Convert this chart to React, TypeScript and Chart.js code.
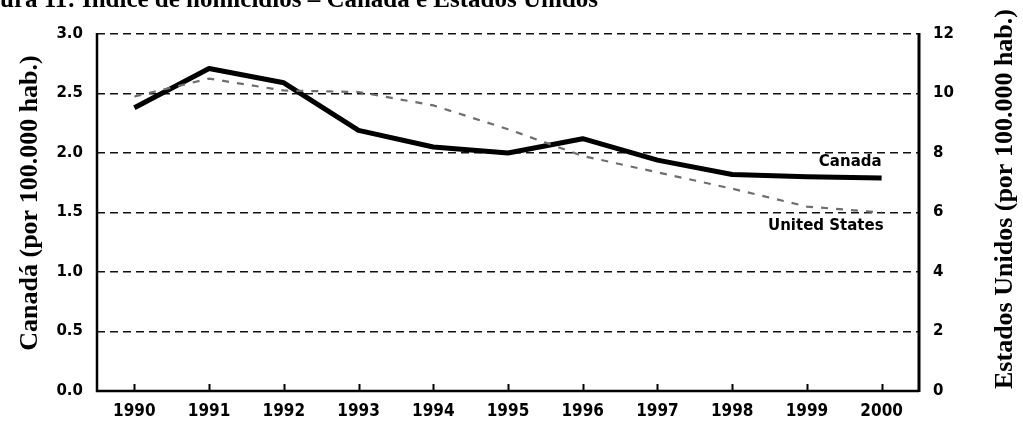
import { useEffect, useRef } from "react";
import { Chart, registerables } from "chart.js";

Chart.register(...registerables);

const years = ["1990", "1991", "1992", "1993", "1994", "1995", "1996", "1997", "1998", "1999", "2000"];
const canada = [2.38, 2.71, 2.59, 2.19, 2.05, 2.0, 2.12, 1.94, 1.82, 1.8, 1.79];
const unitedStates = [9.9, 10.5, 10.1, 10.05, 9.6, 8.8, 7.9, 7.35, 6.8, 6.2, 6.0];
const seriesLabels = ["Canada", "United States"];
const titleHidden = "Fig";
const titleText = "Figura 11: Índice de homicídios – Canadá e Estados Unidos";
const leftAxisTitle = "Canadá (por 100.000 hab.)";
const rightAxisTitle = "Estados Unidos (por 100.000 hab.)";

const TICK_FONT = "'DejaVu Sans', sans-serif";
const XTICK_FONT = "'DejaVu Sans Condensed', 'DejaVu Sans', sans-serif";
const SERIF = "'Liberation Serif', 'Times New Roman', serif";

const decorPlugin = {
  id: "decor",
  afterDatasetsDraw(chart: any) {
    const { ctx, chartArea: a, scales } = chart;
    ctx.save();
    ctx.strokeStyle = "#000";
    ctx.setLineDash([]);
    // left + bottom axis
    ctx.lineWidth = 2.5;
    ctx.beginPath();
    ctx.moveTo(a.left, a.top - 1);
    ctx.lineTo(a.left, a.bottom);
    ctx.lineTo(a.right, a.bottom);
    ctx.stroke();
    // right axis
    ctx.lineWidth = 3;
    ctx.beginPath();
    ctx.moveTo(a.right, a.top - 1);
    ctx.lineTo(a.right, a.bottom + 1);
    ctx.stroke();
    // inner x tick marks
    ctx.lineWidth = 2;
    ctx.beginPath();
    years.forEach((_, i) => {
      const x = Math.round(scales.x.getPixelForValue(i)) + 0.5;
      ctx.moveTo(x, a.bottom);
      ctx.lineTo(x, a.bottom - 7);
    });
    ctx.stroke();

    // series labels near last points
    const last = years.length - 1;
    const xLast = scales.x.getPixelForValue(last);
    ctx.fillStyle = "#000";
    ctx.font = `bold 15px ${TICK_FONT}`;
    ctx.textAlign = "right";
    ctx.textBaseline = "middle";
    ctx.fillText(seriesLabels[0], xLast, scales.y.getPixelForValue(canada[last]) - 16);
    ctx.fillText(seriesLabels[1], xLast + 2, scales.y2.getPixelForValue(unitedStates[last]) + 14);

    // title (cropped at top and left)
    ctx.font = `bold 25px ${SERIF}`;
    ctx.textAlign = "left";
    ctx.textBaseline = "alphabetic";
    const off = ctx.measureText(titleHidden).width;
    ctx.fillText(titleText, -off, 7);

    // axis titles
    ctx.font = `bold 26px ${SERIF}`;
    ctx.textAlign = "center";
    ctx.textBaseline = "alphabetic";
    ctx.save();
    ctx.translate(37, 203);
    ctx.rotate(-Math.PI / 2);
    ctx.fillText(leftAxisTitle, 0, 0);
    ctx.restore();
    ctx.save();
    ctx.translate(1012, 199);
    ctx.rotate(-Math.PI / 2);
    ctx.fillText(rightAxisTitle, 0, 0);
    ctx.restore();
    ctx.restore();
  },
};

export default function App() {
  const ref = useRef<HTMLCanvasElement>(null);
  useEffect(() => {
    document.body.style.margin = "0";
    const canvas = ref.current;
    if (!canvas) return;
    const chart = new Chart(canvas, {
      type: "line",
      data: {
        labels: years,
        datasets: [
          {
            label: seriesLabels[1],
            data: unitedStates,
            yAxisID: "y2",
            borderColor: "#6e6e6e",
            borderWidth: 2.2,
            borderDash: [7, 8],
            pointRadius: 0,
            tension: 0,
          },
          {
            label: seriesLabels[0],
            data: canada,
            yAxisID: "y",
            borderColor: "#000",
            borderWidth: 5,
            pointRadius: 0,
            tension: 0,
            borderJoinStyle: "round",
          },
        ],
      },
      options: {
        responsive: false,
        animation: false,
        devicePixelRatio: 1,
        layout: { padding: { top: 34, left: 0, right: 0, bottom: 0 } },
        plugins: { legend: { display: false }, title: { display: false }, tooltip: { enabled: false } },
        scales: {
          x: {
            type: "category",
            offset: true,
            grid: { display: false, drawTicks: false },
            border: { display: false },
            ticks: {
              color: "#000",
              font: { family: XTICK_FONT, size: 17, weight: "bold" },
              padding: 10,
              maxRotation: 0,
              autoSkip: false,
            },
            afterFit: (s: any) => {
              s.height = 32;
            },
          },
          y: {
            position: "left",
            min: 0,
            max: 3,
            ticks: {
              stepSize: 0.5,
              color: "#000",
              font: { family: TICK_FONT, size: 15, weight: "bold" },
              padding: 14,
              callback: (v: any) => Number(v).toFixed(1),
            },
            grid: { color: "#111", lineWidth: 1.5, drawTicks: false },
            border: { display: false, dash: [8, 5] },
            afterFit: (s: any) => {
              s.width = 97;
            },
          },
          y2: {
            position: "right",
            min: 0,
            max: 12,
            ticks: {
              stepSize: 2,
              color: "#000",
              font: { family: TICK_FONT, size: 15, weight: "bold" },
              padding: 14,
            },
            grid: { drawOnChartArea: false, drawTicks: false },
            border: { display: false },
            afterFit: (s: any) => {
              s.width = 104;
            },
          },
        },
      },
      plugins: [decorPlugin],
    });
    return () => chart.destroy();
  }, []);
  return <canvas ref={ref} width={1023} height={423} style={{ display: "block" }} />;
}
